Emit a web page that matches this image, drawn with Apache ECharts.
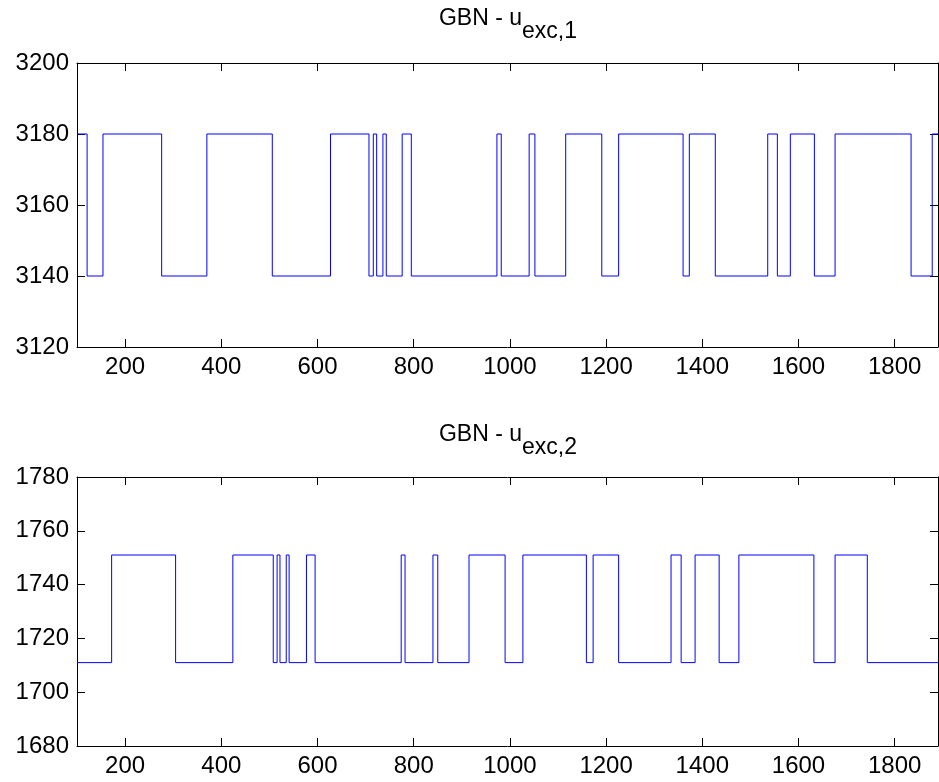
<!DOCTYPE html>
<html>
<head>
<meta charset="utf-8">
<script src="https://cdn.jsdelivr.net/npm/echarts@6/dist/echarts.min.js"></script>
<style>html,body{margin:0;padding:0;background:#fff;}#c{width:939px;height:782px;}</style>
</head>
<body>
<div id="c"></div>
<script>
// ---- data ----
const xTicks = [200, 400, 600, 800, 1000, 1200, 1400, 1600, 1800];
const xMin = 100, xMax = 1890;

// upper plot: switching instants and held level (value held from this instant to the next)
const times1 = [100,121,154,276,370,506,627,707,716,723,736,743,776,795,973,982,1040,1052,1116,1191,1226,1360,1373,1427,1536,1556,1583,1633,1676,1834,1878,1890];
const levels1 = [3180,3140,3180,3140,3180,3140,3180,3140,3180,3140,3180,3140,3180,3140,3180,3140,3180,3140,3180,3140,3180,3140,3180,3140,3180,3140,3180,3140,3180,3140,3180,3180];

// lower plot
const times2 = [100,172,305,424,508,516,522,535,541,577,595,774,782,840,850,915,990,1027,1159,1173,1226,1335,1356,1385,1435,1476,1632,1676,1743,1890];
const levels2 = [1711,1751,1711,1751,1711,1751,1711,1751,1711,1751,1711,1751,1711,1751,1711,1751,1711,1751,1711,1751,1711,1751,1711,1751,1711,1751,1711,1751,1711,1711];

const yRange1 = {min: 3120, max: 3200, interval: 20};
const yRange2 = {min: 1680, max: 1780, interval: 20};
const titles = [['GBN - u', 'exc,1'], ['GBN - u', 'exc,2']];

// ---- chart ----
const FONT = 'Liberation Sans, Arial, Helvetica, sans-serif';
const FS = 24;
const TFS = 23;
const chart = echarts.init(document.getElementById('c'), null, {renderer: 'canvas'});

const grids = [
  {left: 77, right: 1, top: 63, height: 284},
  {left: 77, right: 1, top: 477, height: 269}
];
const plain = v => String(v);

function xAxes(gi) {
  const base = {
    type: 'value', gridIndex: gi, min: xMin, max: xMax,
    axisLine: {show: true, onZero: false, lineStyle: {color: '#000', width: 1}},
    splitLine: {show: false}
  };
  return [
    Object.assign({}, base, {
      position: 'bottom',
      axisTick: {show: true, inside: true, length: 8, customValues: xTicks, lineStyle: {color: '#000'}},
      axisLabel: {show: true, customValues: xTicks, formatter: plain, color: '#000', fontFamily: FONT, fontSize: FS, margin: 8}
    }),
    Object.assign({}, base, {
      position: 'top',
      axisTick: {show: true, inside: true, length: 8, customValues: xTicks, lineStyle: {color: '#000'}},
      axisLabel: {show: false}
    })
  ];
}
function yAxes(gi, r) {
  const base = {
    type: 'value', gridIndex: gi, min: r.min, max: r.max, interval: r.interval,
    axisLine: {show: true, onZero: false, lineStyle: {color: '#000', width: 1}},
    splitLine: {show: false}
  };
  return [
    Object.assign({}, base, {
      position: 'left',
      axisTick: {show: true, inside: true, length: 8, lineStyle: {color: '#000'}},
      axisLabel: {show: true, formatter: plain, color: '#000', fontFamily: FONT, fontSize: FS, margin: 8}
    }),
    Object.assign({}, base, {
      position: 'right',
      axisTick: {show: true, inside: true, length: 8, lineStyle: {color: '#000'}},
      axisLabel: {show: false}
    })
  ];
}

function pairs(t, v) { return t.map((x, i) => [x, v[i]]); }

function titleGraphic(ti, y) {
  return {
    type: 'text', x: 508, y: y,
    style: {
      text: '{a|' + titles[ti][0] + '}{b|' + titles[ti][1] + '}',
      align: 'center', verticalAlign: 'top',
      rich: {
        a: {fontFamily: FONT, fontSize: TFS, fill: '#000', color: '#000', lineHeight: 24, verticalAlign: 'top'},
        b: {fontFamily: FONT, fontSize: TFS, fill: '#000', color: '#000', lineHeight: 24, padding: [13, 0, 0, 0], verticalAlign: 'top'}
      }
    }
  };
}

chart.setOption({
  animation: false,
  backgroundColor: '#fff',
  grid: grids,
  xAxis: [...xAxes(0), ...xAxes(1)],
  yAxis: [...yAxes(0, yRange1), ...yAxes(1, yRange2)],
  graphic: [titleGraphic(0, 7), titleGraphic(1, 423)],
  series: [
    {type: 'line', xAxisIndex: 0, yAxisIndex: 0, step: 'end', showSymbol: false,
     data: pairs(times1, levels1), lineStyle: {color: '#0000ff', width: 1}, itemStyle: {color: '#0000ff'}},
    {type: 'line', xAxisIndex: 2, yAxisIndex: 2, step: 'end', showSymbol: false,
     data: pairs(times2, levels2), lineStyle: {color: '#0000ff', width: 1}, itemStyle: {color: '#0000ff'}}
  ]
});
</script>
</body>
</html>
